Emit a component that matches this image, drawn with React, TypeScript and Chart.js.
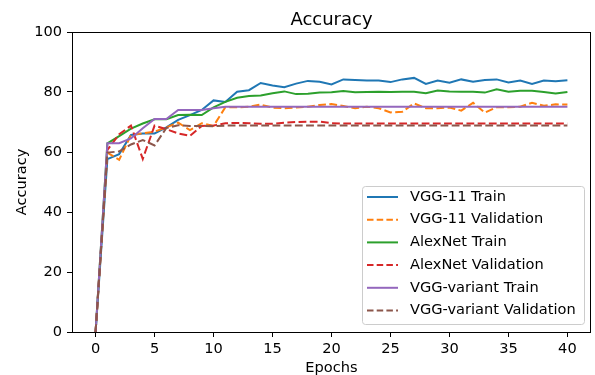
import React, { useEffect, useRef } from "react";
import { Chart, registerables } from "chart.js";

Chart.register(...registerables);

const epochs = Array.from({ length: 41 }, (_, i) => i);
const xTicks = [0, 5, 10, 15, 20, 25, 30, 35, 40];
const yTicks = [0, 20, 40, 60, 80, 100];

const vgg11Train = [0, 57.6, 59.3, 65.7, 66.2, 66.2, 68.2, 70.7, 72.3, 74.0, 77.2, 76.7, 80.1, 80.6, 83.0, 82.2, 81.6, 82.8, 83.7, 83.4, 82.5, 84.2, 84.0, 83.8, 83.8, 83.3, 84.2, 84.7, 82.7, 83.8, 83.1, 84.2, 83.4, 84.0, 84.2, 83.2, 83.8, 82.7, 83.8, 83.6, 83.9];
const vgg11Val = [0, 59.8, 57.4, 65.7, 66.2, 66.8, 68.2, 69.8, 67.3, 69.6, 68.7, 74.9, 74.9, 75.1, 75.8, 74.8, 74.6, 74.8, 75.1, 75.7, 76.0, 75.3, 74.6, 75.1, 74.6, 73.2, 73.4, 76.2, 74.6, 74.6, 74.8, 73.8, 76.4, 73.1, 74.9, 74.9, 75.1, 76.4, 75.4, 75.9, 75.8];
const alexTrain = [0, 62.9, 65.3, 67.8, 69.5, 70.9, 70.9, 72.3, 72.4, 72.3, 74.9, 76.7, 78.1, 78.7, 78.8, 79.6, 80.2, 79.3, 79.4, 79.8, 79.9, 80.3, 79.9, 80.0, 80.1, 80.0, 80.1, 80.1, 79.6, 80.5, 80.2, 80.1, 80.1, 79.8, 80.9, 80.1, 80.4, 80.4, 80.0, 79.5, 80.0];
const alexVal = [0, 60.7, 65.9, 68.8, 57.7, 68.8, 67.6, 66.2, 65.4, 68.7, 68.8, 69.6, 69.7, 69.6, 69.4, 69.4, 69.8, 70.0, 70.1, 70.1, 69.6, 69.5, 69.5, 69.5, 69.5, 69.5, 69.5, 69.5, 69.5, 69.5, 69.5, 69.5, 69.5, 69.5, 69.5, 69.5, 69.5, 69.5, 69.5, 69.5, 69.5];
const variantTrain = [0, 62.9, 62.9, 64.5, 67.9, 71.0, 71.0, 74.0, 74.0, 74.0, 74.6, 75.1, 75.1, 75.1, 75.1, 75.1, 75.1, 75.1, 75.1, 75.1, 75.1, 75.1, 75.1, 75.1, 75.1, 75.1, 75.1, 75.1, 75.1, 75.1, 75.1, 75.1, 75.1, 75.1, 75.1, 75.1, 75.1, 75.1, 75.1, 75.1, 75.1];
const variantVal = [0, 59.8, 60.2, 62.5, 64.0, 62.2, 68.0, 68.9, 68.7, 68.7, 68.6, 68.8, 68.8, 68.8, 68.8, 68.8, 68.8, 68.8, 68.8, 68.8, 68.8, 68.8, 68.8, 68.8, 68.8, 68.8, 68.8, 68.8, 68.8, 68.8, 68.8, 68.8, 68.8, 68.8, 68.8, 68.8, 68.8, 68.8, 68.8, 68.8, 68.8];

const seriesNames = ["VGG-11 Train", "VGG-11 Validation", "AlexNet Train", "AlexNet Validation", "VGG-variant Train", "VGG-variant Validation"];
const seriesValues = [vgg11Train, vgg11Val, alexTrain, alexVal, variantTrain, variantVal];
const seriesColors = ["#1f77b4", "#ff7f0e", "#2ca02c", "#d62728", "#9467bd", "#8c564b"];
const seriesDashed = [false, true, false, true, false, true];

const chartTitle = "Accuracy";
const FONT = "'DejaVu Sans', sans-serif";
const DASH = [7.8, 3.4];
const TXT = 14.6;

const framePlugin = {
  id: "frameAndLegend",
  afterDatasetsDraw(chart: any) {
    const { ctx, chartArea } = chart;
    const { left, right, top, bottom } = chartArea;
    ctx.save();
    ctx.strokeStyle = "#000";
    ctx.lineWidth = 1;
    ctx.setLineDash([]);
    ctx.strokeRect(Math.round(left) + 0.5, Math.round(top) + 0.5, Math.round(right - left) - 1, Math.round(bottom - top));
    ctx.fillStyle = "#000";
    ctx.font = "18px " + FONT;
    ctx.textAlign = "center";
    ctx.textBaseline = "alphabetic";
    ctx.fillText(chartTitle, (left + right) / 2, 25);
    const bx = 362.5, by = 186.5, bw = 222, bh = 138, r = 3;
    ctx.beginPath();
    ctx.moveTo(bx + r, by);
    ctx.lineTo(bx + bw - r, by);
    ctx.quadraticCurveTo(bx + bw, by, bx + bw, by + r);
    ctx.lineTo(bx + bw, by + bh - r);
    ctx.quadraticCurveTo(bx + bw, by + bh, bx + bw - r, by + bh);
    ctx.lineTo(bx + r, by + bh);
    ctx.quadraticCurveTo(bx, by + bh, bx, by + bh - r);
    ctx.lineTo(bx, by + r);
    ctx.quadraticCurveTo(bx, by, bx + r, by);
    ctx.closePath();
    ctx.fillStyle = "rgba(255,255,255,0.8)";
    ctx.fill();
    ctx.strokeStyle = "#cccccc";
    ctx.stroke();
    ctx.font = TXT + "px " + FONT;
    ctx.textBaseline = "middle";
    ctx.textAlign = "left";
    seriesNames.forEach((name, i) => {
      const y = 197 + i * 22.7;
      ctx.beginPath();
      ctx.strokeStyle = seriesColors[i];
      ctx.lineWidth = 2;
      ctx.setLineDash(seriesDashed[i] ? [6.5, 3.2] : []);
      ctx.moveTo(367, y);
      ctx.lineTo(398, y);
      ctx.stroke();
      ctx.fillStyle = "#000";
      ctx.fillText(name, 410, y);
    });
    ctx.restore();
  },
};

export default function App() {
  const canvasRef = useRef<HTMLCanvasElement | null>(null);

  useEffect(() => {
    const canvas = canvasRef.current;
    if (!canvas) return;
    const chart = new Chart(canvas, {
      type: "line",
      data: {
        labels: epochs,
        datasets: seriesNames.map((name, i) => ({
          label: name,
          data: epochs.map((e, j) => ({ x: e, y: seriesValues[i][j] })),
          borderColor: seriesColors[i],
          backgroundColor: seriesColors[i],
          borderWidth: 2,
          borderDash: seriesDashed[i] ? DASH : [],
          pointRadius: 0,
          tension: 0,
          fill: false,
          order: 5 - i,
        })),
      },
      options: {
        animation: false,
        responsive: false,
        devicePixelRatio: 1,
        layout: { padding: { left: 0, right: 4, top: 32, bottom: 0 } },
        plugins: {
          legend: { display: false },
          tooltip: { enabled: false },
          title: { display: false },
        },
        scales: {
          x: {
            type: "linear",
            min: -2,
            max: 42,
            afterBuildTicks: (scale: any) => {
              scale.ticks = xTicks.map((v) => ({ value: v }));
            },
            afterFit: (scale: any) => {
              scale.height = 43;
            },
            ticks: {
              color: "#000",
              font: { family: FONT, size: TXT },
              padding: 3,
              maxRotation: 0,
              callback: (v: any) => String(v),
            },
            grid: { display: true, drawOnChartArea: false, drawTicks: true, tickLength: 5, color: "#000" },
            border: { display: false },
            title: {
              display: true,
              text: "Epochs",
              color: "#000",
              font: { family: FONT, size: TXT },
              padding: { top: 0, bottom: -2 },
            },
          },
          y: {
            type: "linear",
            min: 0,
            max: 100,
            afterBuildTicks: (scale: any) => {
              scale.ticks = yTicks.map((v) => ({ value: v }));
            },
            afterFit: (scale: any) => {
              scale.width = 72;
            },
            ticks: {
              color: "#000",
              font: { family: FONT, size: TXT },
              padding: 5,
              callback: (v: any) => String(v),
            },
            grid: { display: true, drawOnChartArea: false, drawTicks: true, tickLength: 5, color: "#000" },
            border: { display: false },
            title: {
              display: true,
              text: "Accuracy",
              color: "#000",
              font: { family: FONT, size: TXT },
              padding: { top: 13, bottom: 0 },
            },
          },
        },
      },
      plugins: [framePlugin],
    });
    return () => chart.destroy();
  }, []);

  return (
    <div style={{ position: "absolute", left: 0, top: 0, width: 595, height: 375 }}>
      <canvas ref={canvasRef} width={595} height={375} />
    </div>
  );
}
